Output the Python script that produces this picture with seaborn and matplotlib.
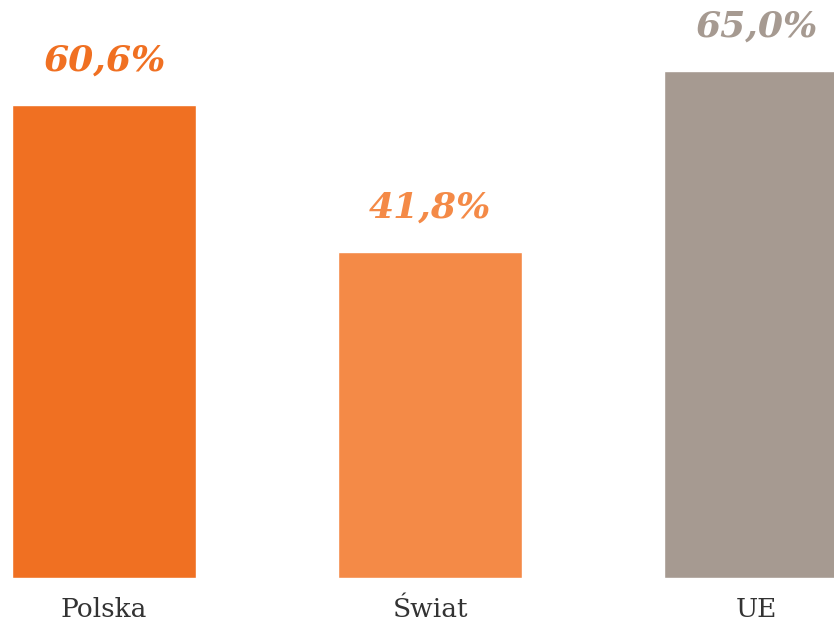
import pandas as pd
import matplotlib.pyplot as plt
import seaborn as sns

# Dane z wykresu
categories = ["Polska", "Świat", "UE"]
values = [60.6, 41.8, 65.0]
labels = ["60,6%", "41,8%", "65,0%"]
colors = ["#F07022", "#F48A47", "#A69A91"]

df = pd.DataFrame({"region": categories, "value": values})

sns.set_theme(style="white")
plt.rcParams["font.family"] = ["DejaVu Serif"]

fig = plt.figure(figsize=(8.34, 6.24), dpi=100)
ax = fig.add_axes([0, 46 / 624, 1, 578 / 624])

sns.barplot(data=df, x="region", y="value", hue="region", palette=colors,
            saturation=1, width=0.565, legend=False, ax=ax)

ax.set_xlim(-0.319, 2.239)
ax.set_ylim(0, 74.06)

# Etykiety wartości nad słupkami
for i, (v, lab) in enumerate(zip(values, labels)):
    ax.annotate(lab, (i, v), xytext=(0, 32), textcoords="offset points",
                ha="center", va="center", fontsize=26, fontweight="bold",
                fontstyle="italic", color=colors[i])

sns.despine(ax=ax, left=True, bottom=True)
ax.set_yticks([])
ax.set_xlabel("")
ax.set_ylabel("")
ax.tick_params(axis="x", length=0, pad=14, labelsize=19, labelcolor="#333333")

fig.savefig("out.png", dpi=100)
plt.close()
